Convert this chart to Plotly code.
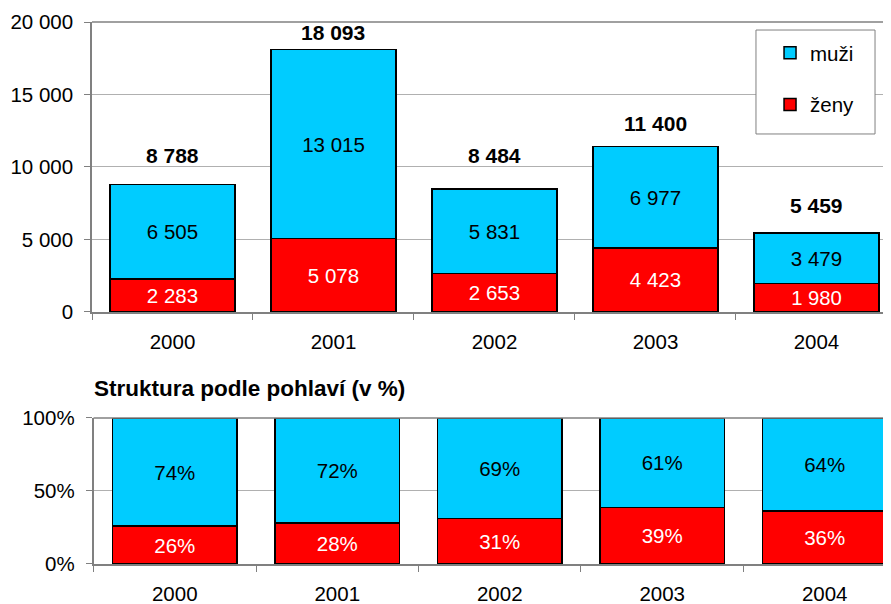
import plotly.graph_objects as go
from plotly.subplots import make_subplots

years = ["2000", "2001", "2002", "2003", "2004"]
muzi = [6505, 13015, 5831, 6977, 3479]
zeny = [2283, 5078, 2653, 4423, 1980]
totals = [m + z for m, z in zip(muzi, zeny)]
muzi_share = [m / t for m, t in zip(muzi, totals)]
zeny_share = [z / t for z, t in zip(zeny, totals)]

# pixel gap between bar top and centre of the total label (styling)
total_label_gap = [29, 17, 33, 23, 27]

BLUE = "#00CCFF"
RED = "#FF0000"
FONT = "Liberation Sans, Arial, sans-serif"
FS = 20.5

fig = make_subplots(rows=2, cols=1)

fig.add_trace(go.Bar(x=years, y=zeny, name="ženy", marker=dict(color=RED, line=dict(color="black", width=1.5)),
                     texttemplate="%{y:,d}", textposition="inside", insidetextanchor="middle",
                     textangle=0, textfont=dict(color="white", size=FS, family=FONT),
                     legendgroup="z", legendrank=2, showlegend=True, width=0.775), row=1, col=1)
fig.add_trace(go.Bar(x=years, y=muzi, name="muži", marker=dict(color=BLUE, line=dict(color="black", width=1.5)),
                     texttemplate="%{y:,d}", textposition="inside", insidetextanchor="middle",
                     textangle=0, textfont=dict(color="black", size=FS, family=FONT),
                     legendgroup="m", legendrank=1, showlegend=True, width=0.775), row=1, col=1)

fig.add_trace(go.Bar(x=years, y=zeny_share, name="ženy", marker=dict(color=RED, line=dict(color="black", width=1.5)),
                     texttemplate="%{y:.0%}", textposition="inside", insidetextanchor="middle",
                     textangle=0, textfont=dict(color="white", size=FS, family=FONT),
                     showlegend=False, width=0.765), row=2, col=1)
fig.add_trace(go.Bar(x=years, y=muzi_share, name="muži", marker=dict(color=BLUE, line=dict(color="black", width=1.5)),
                     texttemplate="%{y:.0%}", textposition="inside", insidetextanchor="middle",
                     textangle=0, textfont=dict(color="black", size=FS, family=FONT),
                     showlegend=False, width=0.765), row=2, col=1)

for i, (t, gap) in enumerate(zip(totals, total_label_gap)):
    fig.add_annotation(x=i, y=t, xref="x", yref="y", text="<b>" + f"{t:,d}".replace(",", " ") + "</b>",
                       showarrow=False, yanchor="middle", yshift=gap,
                       font=dict(size=21, color="black", family=FONT))

fig.add_annotation(x=0.0, y=0.3247, xref="paper", yref="paper", xanchor="left", yanchor="middle",
                   text="<b>Struktura podle pohlaví (v %)</b>", showarrow=False,
                   font=dict(size=22.5, color="black", family=FONT))

axis_common = dict(showline=True, linecolor="#808080", linewidth=1.5, ticks="outside",
                   tickcolor="#808080", ticklen=6, tickfont=dict(size=FS, color="black", family=FONT))

fig.update_layout(
    width=883, height=596,
    margin=dict(l=84, r=0, t=14, b=40),
    barmode="stack",
    plot_bgcolor="white", paper_bgcolor="white",
    separators=", ",
    font=dict(family=FONT, size=FS, color="black"),
    xaxis=dict(domain=[0, 1], range=[-0.5, 4.463], type="category", tickson="boundaries",
               ticklabelstandoff=11, **axis_common),
    yaxis=dict(domain=[0.465, 1], range=[0, 20000], tickvals=[0, 5000, 10000, 15000, 20000],
               tickformat=",d", showgrid=True, gridcolor="#B0B0B0", gridwidth=1, zeroline=False,
               ticklabelstandoff=7, **axis_common),
    xaxis2=dict(domain=[0.0019, 1], range=[-0.5, 4.408], type="category", tickson="boundaries",
                ticklabelstandoff=11, **axis_common),
    yaxis2=dict(domain=[0, 0.2694], range=[0, 1], tickvals=[0, 0.5, 1], tickformat=".0%",
                showgrid=True, gridcolor="#B0B0B0", gridwidth=1, zeroline=False,
                ticklabelstandoff=7, **axis_common),
    legend=dict(x=0.8486, y=0.9797, xanchor="left", yanchor="top", bgcolor="rgba(0,0,0,0)",
                borderwidth=0, traceorder="grouped",
                tracegroupgap=22, font=dict(size=FS, family=FONT, color="black")),
)

fig.add_shape(type="line", xref="x domain", yref="y domain", x0=0, x1=1, y0=1, y1=1,
              line=dict(color="#808080", width=1.5))
fig.add_shape(type="line", xref="x2 domain", yref="y2 domain", x0=0, x1=1, y0=1, y1=1,
              line=dict(color="#808080", width=1.5))
# legend frame
fig.add_shape(type="rect", xref="paper", yref="paper", x0=0.831, x1=0.980, y0=0.7934, y1=0.9852,
              fillcolor="white", line=dict(color="#808080", width=1), layer="above")

fig.write_html("out.html")
